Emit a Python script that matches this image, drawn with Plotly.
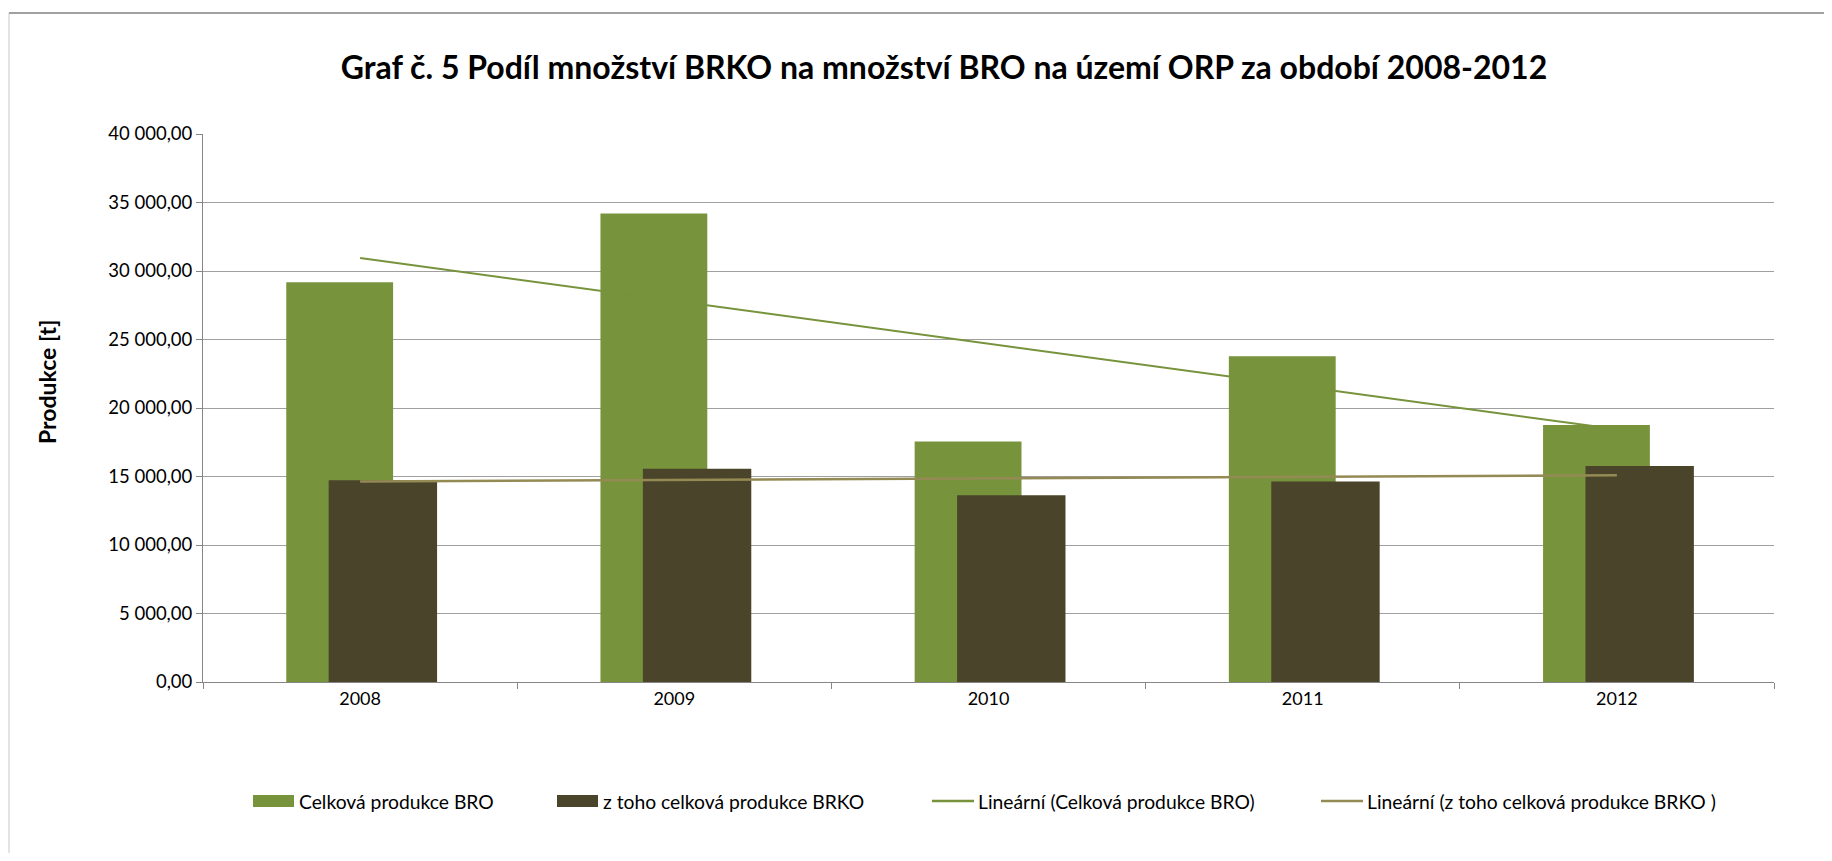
import numpy as np
import plotly.graph_objects as go

YEARS = ["2008", "2009", "2010", "2011", "2012"]
BRO_TOTAL = [29170, 34200, 17560, 23780, 18760]
BRKO_TOTAL = [14730, 15560, 13640, 14630, 15760]

NAME_BRO = "Celková produkce BRO"
NAME_BRKO = "z toho celková produkce BRKO"
NAME_TREND_BRO = "Lineární (Celková produkce BRO)"
NAME_TREND_BRKO = "Lineární (z toho celková produkce BRKO )"

TITLE = "Graf č. 5 Podíl množství BRKO na množství BRO na území ORP za období 2008-2012"
Y_TITLE = "Produkce [t]"

GREEN = "#77933C"
DARK = "#4A452A"
TAN = "#948A54"
GRID = "#A0A0A0"
AXIS = "#868686"
FONT = "Lato"

# page has 8px body margin, so figure is 1816x845 inside the 1832x861 window
W, H = 1816, 845
L, R, T, B = 195, 50, 126, 171
PW, PH = W - L - R, H - T - B


def trend(values):
    """Excel style linear trendline over category index"""
    idx = np.arange(len(values))
    k, q = np.polyfit(idx, values, 1)
    return list(k * idx + q)


def px_x(px):
    return (px - L) / PW


def px_y(px):
    return (H - B - px) / PH


fig = go.Figure()
fig.add_trace(go.Bar(x=YEARS, y=BRO_TOTAL, name=NAME_BRO, marker_color=GREEN,
                     width=0.34, offset=-0.235, marker_line_width=0))
fig.add_trace(go.Bar(x=YEARS, y=BRKO_TOTAL, name=NAME_BRKO, marker_color=DARK,
                     width=0.345, offset=-0.10, marker_line_width=0))
fig.add_trace(go.Scatter(x=YEARS, y=trend(BRO_TOTAL), name=NAME_TREND_BRO, mode="lines",
                         line=dict(color=GREEN, width=2)))
fig.add_trace(go.Scatter(x=YEARS, y=trend(BRKO_TOTAL), name=NAME_TREND_BRKO, mode="lines",
                         line=dict(color=TAN, width=2.5)))

fig.update_layout(
    width=W,
    height=H,
    margin=dict(l=L, r=R, t=T, b=B),
    paper_bgcolor="white",
    plot_bgcolor="white",
    barmode="overlay",
    separators=", ",
    font=dict(family=FONT, size=18, color="black"),
    title=dict(text="<b>" + TITLE + "</b>", x=936 / W, xanchor="center",
               y=1 - 60 / H, yanchor="middle", font=dict(size=32, family=FONT)),
    showlegend=False,
)
fig.update_xaxes(type="category", tickson="boundaries", ticks="outside", ticklen=6,
                 tickcolor=AXIS, showline=True, linecolor=AXIS, linewidth=1,
                 showgrid=False, tickfont=dict(size=18))
fig.update_yaxes(range=[0, 40000], dtick=5000, tickformat=",.2f", ticks="outside",
                 ticklen=6, tickcolor=AXIS, showline=True, linecolor=AXIS,
                 gridcolor=GRID, gridwidth=1, zeroline=False, tickfont=dict(size=18.5))

fig.add_annotation(text="<b>" + Y_TITLE + "</b>", textangle=-90, xref="paper", yref="paper",
                   x=px_x(39), y=px_y(374), xanchor="center", yanchor="middle",
                   showarrow=False, font=dict(size=23))

# legend drawn by hand: (label, colour, kind, symbol left edge in page px)
legend_items = [
    (NAME_BRO, GREEN, "rect", 245),
    (NAME_BRKO, DARK, "rect", 549),
    (NAME_TREND_BRO, GREEN, "line", 924),
    (NAME_TREND_BRKO, TAN, "line", 1313),
]
LEG_Y = 793
for label, color, kind, x0 in legend_items:
    if kind == "rect":
        fig.add_shape(type="rect", xref="paper", yref="paper",
                      x0=px_x(x0), x1=px_x(x0 + 41), y0=px_y(LEG_Y + 6), y1=px_y(LEG_Y - 6),
                      fillcolor=color, line=dict(width=0))
    else:
        fig.add_shape(type="line", xref="paper", yref="paper",
                      x0=px_x(x0), x1=px_x(x0 + 42), y0=px_y(LEG_Y), y1=px_y(LEG_Y),
                      line=dict(color=color, width=2.5))
    fig.add_annotation(text=label, xref="paper", yref="paper", x=px_x(x0 + 44),
                       y=px_y(LEG_Y), xanchor="left", yanchor="middle", showarrow=False,
                       font=dict(size=19.3))

# chart frame
fig.add_shape(type="rect", xref="paper", yref="paper", x0=px_x(1), x1=px_x(W + 20),
              y0=px_y(H + 20), y1=px_y(5), line=dict(color="#C8C8C8", width=1))
fig.add_shape(type="line", xref="paper", yref="paper", x0=px_x(1), x1=px_x(W + 20),
              y0=px_y(5), y1=px_y(5), line=dict(color="#A0A0A0", width=2))

fig.write_html("out.html")
